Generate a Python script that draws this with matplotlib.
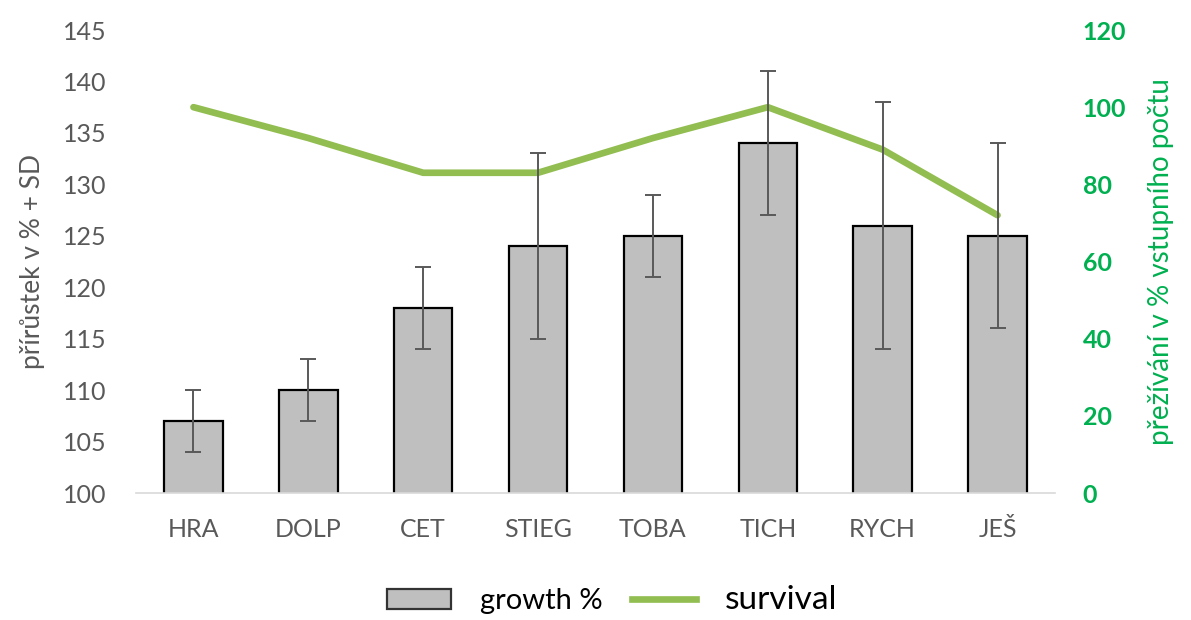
"""Přírůstek (sloupce + SD) a přežívání (čára) podle lokality."""

import matplotlib
matplotlib.use("Agg")
import matplotlib.pyplot as plt
import numpy as np
from matplotlib.patches import Patch
from matplotlib.lines import Line2D

plt.rcParams["font.family"] = ["Lato", "DejaVu Sans"]

sites = ["HRA", "DOLP", "CET", "STIEG", "TOBA", "TICH", "RYCH", "JEŠ"]
growth = [107, 110, 118, 124, 125, 134, 126, 125]
growth_sd = [3, 3, 4, 9, 4, 7, 12, 9]
survival = [100, 92, 83, 83, 92, 100, 89, 72]

GRAY_TXT = "#595959"
GREEN_TXT = "#00B050"
LINE_GREEN = "#92BD50"

fig = plt.figure(figsize=(11.91, 6.2), dpi=100)
ax = fig.add_axes([0.1142, 0.2048, 0.7716, 0.7468])
ax2 = ax.twinx()

x = np.arange(len(sites))
ax.bar(x, growth, width=0.51, color="#BFBFBF", edgecolor="black", linewidth=1.6,
       zorder=2)
ax.errorbar(x, growth, yerr=growth_sd, fmt="none", ecolor=GRAY_TXT,
            elinewidth=1.4, capsize=5.5, capthick=1.4, zorder=3)
ax.set_ylim(100, 145)
ax.set_yticks(range(100, 146, 5))
ax.set_xlim(-0.5, len(sites) - 0.5)
ax.set_xticks(x)
ax.set_xticklabels(sites)

ax2.plot(x, survival, color=LINE_GREEN, lw=4.8, solid_capstyle="round")
ax2.set_ylim(0, 120)
ax2.set_yticks(range(0, 121, 20))

# sloupce a chybové úsečky nad čárou
ax.set_zorder(ax2.get_zorder() + 1)
ax.patch.set_visible(False)

for a in (ax, ax2):
    for s in a.spines.values():
        s.set_visible(False)
ax.spines["bottom"].set_visible(True)
ax.spines["bottom"].set_color("#D9D9D9")
ax.spines["bottom"].set_linewidth(1.2)

ax.tick_params(axis="y", length=0, pad=21, labelsize=18, labelcolor=GRAY_TXT)
ax.tick_params(axis="x", length=0, pad=18, labelsize=18, labelcolor=GRAY_TXT)
ax2.tick_params(axis="y", length=0, pad=20, labelsize=18, labelcolor=GREEN_TXT)
for t in ax2.get_yticklabels():
    t.set_fontweight("bold")

ax.set_ylabel("přírůstek v % + SD", fontsize=19, color=GRAY_TXT, labelpad=13)
ax2.set_ylabel("přežívání v % vstupního počtu", fontsize=20, color=GREEN_TXT,
               labelpad=16)

handles = [Patch(facecolor="#BFBFBF", edgecolor="#333333", linewidth=1.6),
           Line2D([0], [0], color=LINE_GREEN, lw=4.8)]
leg = fig.legend(handles, ["growth %", "survival"], loc="lower center",
                 bbox_to_anchor=(0.514, -0.035), ncol=2, frameon=False,
                 fontsize=21, handlelength=2.2, handleheight=0.7,
                 columnspacing=1.0, handletextpad=1.0)
leg.get_texts()[1].set_fontsize(24)

fig.savefig("out.png", dpi=100)
plt.close(fig)
